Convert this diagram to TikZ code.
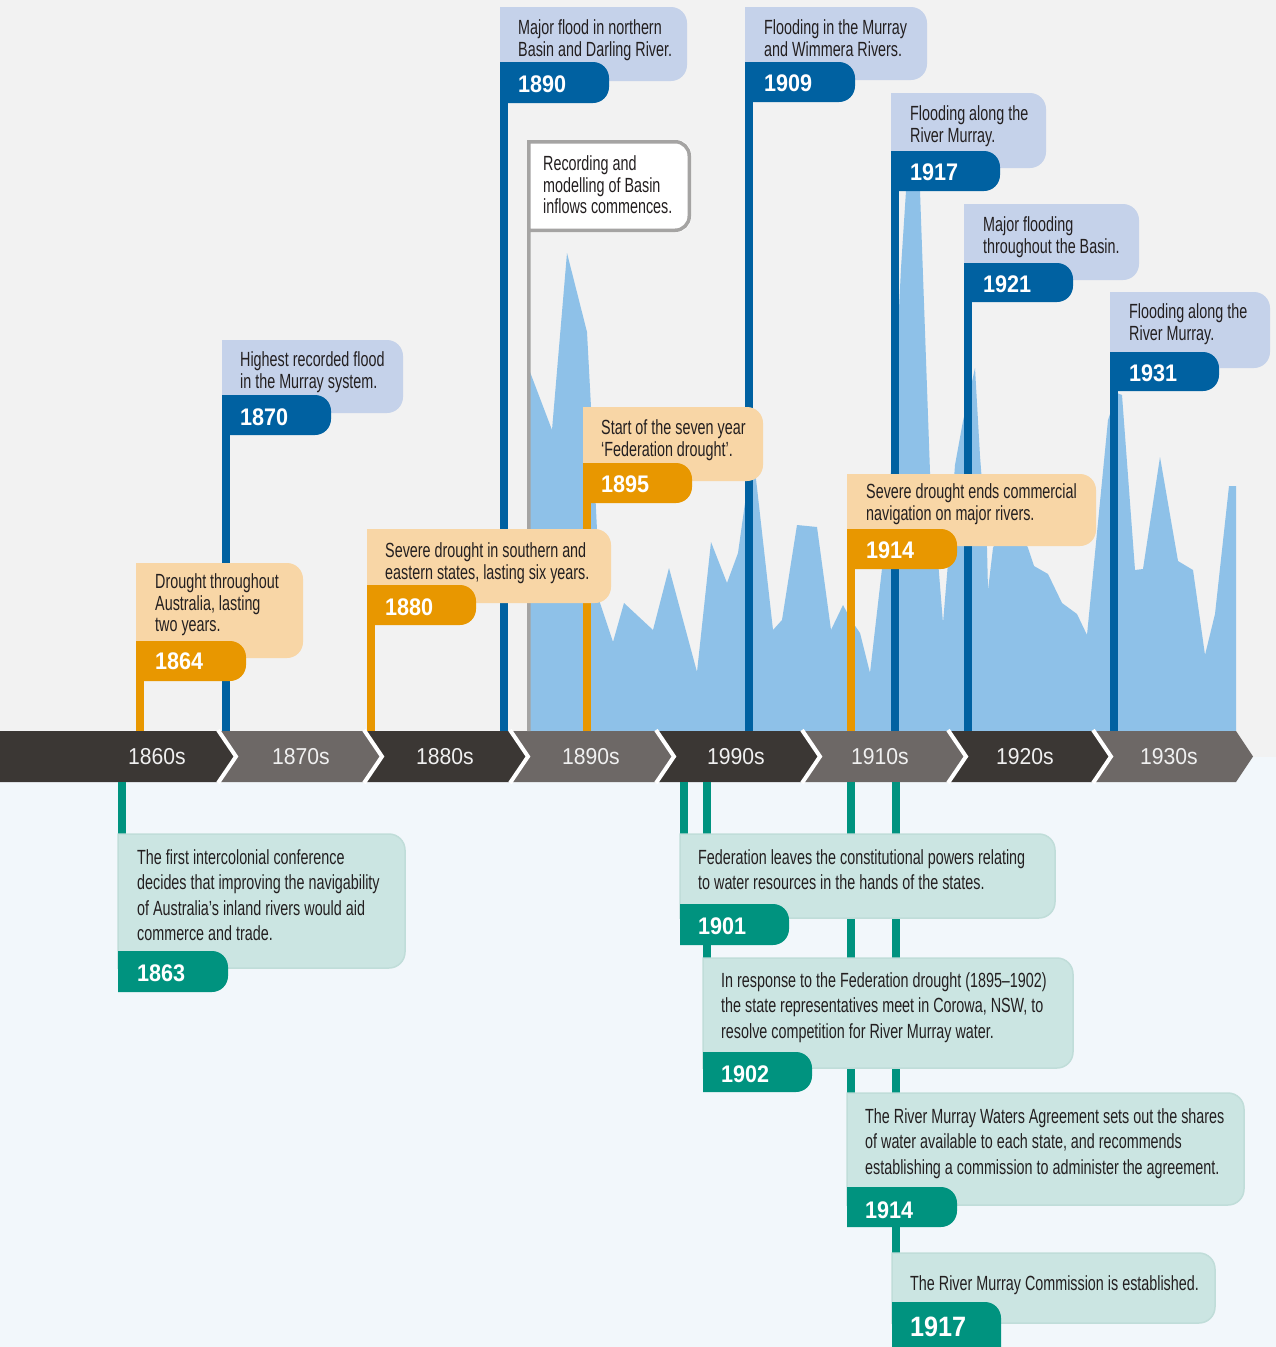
\documentclass[tikz,border=0pt]{standalone}
\usepackage{fontspec}
\setmainfont{Liberation Sans}
\newfontfamily\descfont[FakeStretch=0.70]{Liberation Sans}
\newfontfamily\yrfont[FakeStretch=0.90]{Liberation Sans}
\newfontfamily\decfont[FakeStretch=0.92]{Liberation Sans}
\definecolor{bgtop}{HTML}{F2F2F2}
\definecolor{bgbot}{HTML}{F2F7FB}
\definecolor{chartc}{HTML}{8EC1E8}
\definecolor{bluedk}{HTML}{0061A1}
\definecolor{bluelt}{HTML}{C5D2EA}
\definecolor{orgdk}{HTML}{E89700}
\definecolor{orglt}{HTML}{F8D6A6}
\definecolor{tealdk}{HTML}{00937F}
\definecolor{teallt}{HTML}{CBE5E2}
\definecolor{tealedge}{HTML}{C0DDD9}
\definecolor{banddk}{HTML}{3B3734}
\definecolor{bandlt}{HTML}{6D6866}
\definecolor{greyc}{HTML}{A5A4A3}
\definecolor{txt}{HTML}{231F20}
\definecolor{declab}{HTML}{F0F0F0}
% right-rounded box: [radius]{colour}{x0}{y0}{x1}{y1}
\newcommand\rbox[6][16]{\fill[#2] (#3,#4) -- ({#5-#1},#4) arc[start angle=-90,end angle=0,radius=#1] -- (#5,{#6-#1}) arc[start angle=0,end angle=90,radius=#1] -- (#3,#6) -- cycle;}
\newcommand\rboxb[6][16]{\filldraw[fill=#2,draw=tealedge,line width=1.5pt] (#3,#4) -- ({#5-#1},#4) arc[start angle=-90,end angle=0,radius=#1] -- (#5,{#6-#1}) arc[start angle=0,end angle=90,radius=#1] -- (#3,#6) -- cycle;}
\tikzset{
  desc/.style={anchor=north west, inner sep=0pt, align=left, text=txt,
    font=\descfont\fontsize{20.5}{21.5}\selectfont},
  descb/.style={desc, font=\descfont\fontsize{20.5}{25.3}\selectfont},
  yr/.style={anchor=west, inner sep=0pt, text=white,
    font=\yrfont\bfseries\fontsize{24}{24}\selectfont},
  yrbig/.style={yr, font=\yrfont\bfseries\fontsize{28}{28}\selectfont},
  dec/.style={inner sep=0pt, text=declab, font=\decfont\fontsize{23}{23}\selectfont},
  pole/.style={line width=7.5pt},
  gap/.style={draw=white, line width=4pt},
}
\begin{document}
\begin{tikzpicture}[x=1pt,y=-1pt]
\useasboundingbox (0,0) rectangle (1276,1347);
\clip (0,0) rectangle (1276,1347);
% backgrounds
\fill[bgtop] (0,0) rectangle (1276,757);
\fill[bgbot] (0,757) rectangle (1276,1347);
% inflow chart
\fill[chartc] (530,731) -- (530,372) -- (552,430) -- (567,253) -- (587,332) -- (591,407)
 -- (597,530) -- (600,603) -- (613,642) -- (624,603) -- (653,630) -- (669,568) -- (697,672)
 -- (711,542) -- (727,583) -- (738,553) -- (745,503) -- (752,440) -- (755,470) -- (773,630)
 -- (782,620) -- (797,525) -- (817,527) -- (831,630) -- (843,605) -- (851,620) -- (860,633)
 -- (870,673) -- (883,560) -- (891,470) -- (898,330) -- (901,268) -- (906,191) -- (920,191)
 -- (930,472) -- (937,548) -- (943,623) -- (948,563) -- (955,465) -- (963,421) -- (968,400)
 -- (975,368) -- (980,456) -- (987,548) -- (988,590) -- (993,548) -- (1005,520) -- (1020,530)
 -- (1028,548) -- (1034,566) -- (1048,574) -- (1062,603) -- (1077,614) -- (1087,635)
 -- (1108,420) -- (1117,393) -- (1122,395) -- (1135,570) -- (1143,569) -- (1160,457)
 -- (1178,561) -- (1193,570) -- (1205,655) -- (1215,614) -- (1229,486) -- (1236,486)
 -- (1236,731) -- cycle;
% decade band
\fill[banddk] (0,731) -- (218,731) -- (236,756.5) -- (218,782) -- (0,782) -- cycle;
\fill[bandlt] (218,731) -- (236,756.5) -- (218,782) -- (364,782) -- (382,756.5) -- (364,731) -- cycle;
\fill[banddk] (364,731) -- (382,756.5) -- (364,782) -- (510,782) -- (528,756.5) -- (510,731) -- cycle;
\fill[bandlt] (510,731) -- (528,756.5) -- (510,782) -- (656,782) -- (674,756.5) -- (656,731) -- cycle;
\fill[banddk] (656,731) -- (674,756.5) -- (656,782) -- (802,782) -- (820,756.5) -- (802,731) -- cycle;
\fill[bandlt] (802,731) -- (820,756.5) -- (802,782) -- (948,782) -- (966,756.5) -- (948,731) -- cycle;
\fill[banddk] (948,731) -- (966,756.5) -- (948,782) -- (1093,782) -- (1111,756.5) -- (1093,731) -- cycle;
\fill[bandlt] (1093,731) -- (1111,756.5) -- (1093,782) -- (1236,782) -- (1253,756.5) -- (1236,731) -- cycle;
\foreach \gx in {218,364,510,656,802,948,1093}
  \draw[gap] (\gx,730) -- ({\gx+18},756.5) -- (\gx,783);
\node[dec] (d1860) at (157,757) {1860s};
\node[dec] (d1870) at (301,757) {1870s};
\node[dec] (d1880) at (445,757) {1880s};
\node[dec] (d1890) at (591,757) {1890s};
\node[dec] (d1990) at (736,757) {1990s};
\node[dec] (d1910) at (880,757) {1910s};
\node[dec] (d1920) at (1025,757) {1920s};
\node[dec] (d1930) at (1169,757) {1930s};
% pole anchor coordinates
\foreach \nm/\px/\ty in {a1864/139.75/645, a1870/225.75/400, a1880/370.75/590, a1890/503.75/70,
  a1895/586.75/470, a1909/748.75/70, a1914/850.75/535, a1917/894.75/160, a1921/967.75/270,
  a1931/1113.75/360}{
  \coordinate (\nm b) at (\px,731);
  \coordinate (\nm t) at (\px,\ty);
}
\foreach \nm/\px/\ty in {c1863/121.75/840, c1901/683.75/840, c1902/706.75/965,
  c1914/850.75/1100, c1917/895.75/1260}{
  \coordinate (\nm b) at (\px,782);
  \coordinate (\nm t) at (\px,\ty);
}
% poles (top)
\draw[pole,orgdk] (a1864b) -- (a1864t);
\draw[pole,bluedk] (a1870b) -- (a1870t);
\draw[pole,orgdk] (a1880b) -- (a1880t);
\draw[pole,bluedk] (a1890b) -- (a1890t);
\draw[pole,orgdk] (a1895b) -- (a1895t);
\draw[pole,bluedk] (a1909b) -- (a1909t);
\draw[pole,orgdk] (a1914b) -- (a1914t);
\draw[pole,bluedk] (a1917b) -- (a1917t);
\draw[pole,bluedk] (a1921b) -- (a1921t);
\draw[pole,bluedk] (a1931b) -- (a1931t);
% poles (bottom)
\draw[pole,tealdk] (c1863b) -- (c1863t);
\draw[pole,tealdk] (c1901b) -- (c1901t);
\draw[pole,tealdk] (c1902b) -- (c1902t);
\draw[pole,tealdk] (c1914b) -- (c1914t);
\draw[pole,tealdk] (c1917b) -- (c1917t);
% recording box with grey pole
\rbox[14]{white}{527}{140}{691}{232}
\coordinate (recb) at (528.75,731);
\coordinate (rect) at (528.75,141.75);
\draw[greyc, line width=3.5pt] (recb) -- (rect) -- ({689.25-14},141.75) arc[start angle=-90,end angle=0,radius=14]
  -- (689.25,{230.25-14}) arc[start angle=0,end angle=90,radius=14] -- (528.75,230.25);
% top flag boxes
\rbox{orglt}{136}{563}{303}{658}
\rbox{orgdk}{136}{641}{246}{681}
\rbox{bluelt}{222}{340}{403}{413}
\rbox{bluedk}{222}{395}{331}{435}
\rbox{orglt}{367}{529}{611}{603}
\rbox{orgdk}{367}{585}{476}{625}
\rbox{bluelt}{500}{7}{687}{81}
\rbox{bluedk}{500}{62}{609}{103}
\rbox{orglt}{583}{407}{763}{481}
\rbox{orgdk}{583}{463}{692}{503}
\rbox{bluelt}{745}{7}{927}{80}
\rbox{bluedk}{745}{62}{855}{102}
\rbox{orglt}{847}{474}{1096}{546}
\rbox{orgdk}{847}{529}{957}{569}
\rbox{bluelt}{891}{93}{1046}{168}
\rbox{bluedk}{891}{151}{1000}{191}
\rbox{bluelt}{964}{204}{1139}{280}
\rbox{bluedk}{964}{263}{1073}{302}
\rbox{bluelt}{1110}{292}{1270}{368}
\rbox{bluedk}{1110}{352}{1219}{391}
% bottom flag boxes
\rboxb{teallt}{118}{834}{405}{968}
\rbox{tealdk}{118}{951}{228}{992}
\rboxb{teallt}{680}{834}{1055}{918}
\rbox{tealdk}{680}{904}{789}{945}
\rboxb{teallt}{703}{958}{1073}{1068}
\rbox{tealdk}{703}{1052}{812}{1092}
\rboxb{teallt}{847}{1093}{1244}{1205}
\rbox{tealdk}{847}{1187}{957}{1227}
\rboxb{teallt}{892}{1253}{1215}{1323}
\rbox{tealdk}{892}{1302}{1001}{1370}
% top texts
\node[desc] (t1864) at (155,573.5) {Drought throughout\\Australia, lasting\\two years.};
\node[yr] (y1864) at (155,661) {1864};
\node[desc] (t1870) at (240,351.5) {Highest recorded flood\\in the Murray system.};
\node[yr] (y1870) at (240,417) {1870};
\node[desc] (t1880) at (385,542.5) {Severe drought in southern and\\eastern states, lasting six years.};
\node[yr] (y1880) at (385,607) {1880};
\node[desc] (t1890) at (518,19.5) {Major flood in northern\\Basin and Darling River.};
\node[yr] (y1890) at (518,84) {1890};
\node[desc] (trec) at (543,155.5) {Recording and\\modelling of Basin\\inflows commences.};
\node[desc] (t1895) at (601,419.5) {Start of the seven year\\‘Federation drought’.};
\node[yr] (y1895) at (601,484) {1895};
\node[desc] (t1909) at (764,19.5) {Flooding in the Murray\\and Wimmera Rivers.};
\node[yr] (y1909) at (764,83) {1909};
\node[desc] (t1914) at (866,483.5) {Severe drought ends commercial\\navigation on major rivers.};
\node[yr] (y1914) at (866,550) {1914};
\node[desc] (t1917) at (910,105.5) {Flooding along the\\River Murray.};
\node[yr] (y1917) at (910,172) {1917};
\node[desc] (t1921) at (983,216.5) {Major flooding\\throughout the Basin.};
\node[yr] (y1921) at (983,284) {1921};
\node[desc] (t1931) at (1129,303.5) {Flooding along the\\River Murray.};
\node[yr] (y1931) at (1129,373) {1931};
% bottom texts
\node[descb] (b1863) at (137,849.5) {The first intercolonial conference\\decides that improving the navigability\\of Australia’s inland rivers would aid\\commerce and trade.};
\node[yr] (z1863) at (137,973) {1863};
\node[descb] (b1901) at (698,849.5) {Federation leaves the constitutional powers relating\\to water resources in the hands of the states.};
\node[yr] (z1901) at (698,926) {1901};
\node[descb] (b1902) at (721,972.5) {In response to the Federation drought (1895–1902)\\the state representatives meet in Corowa, NSW, to\\resolve competition for River Murray water.};
\node[yr] (z1902) at (721,1074) {1902};
\node[descb] (b1914) at (865,1108.5) {The River Murray Waters Agreement sets out the shares\\of water available to each state, and recommends\\establishing a commission to administer the agreement.};
\node[yr] (z1914) at (865,1210) {1914};
\node[descb] (b1917) at (910,1275.5) {The River Murray Commission is established.};
\node[yrbig] (z1917) at (910,1327) {1917};
\end{tikzpicture}
\end{document}
